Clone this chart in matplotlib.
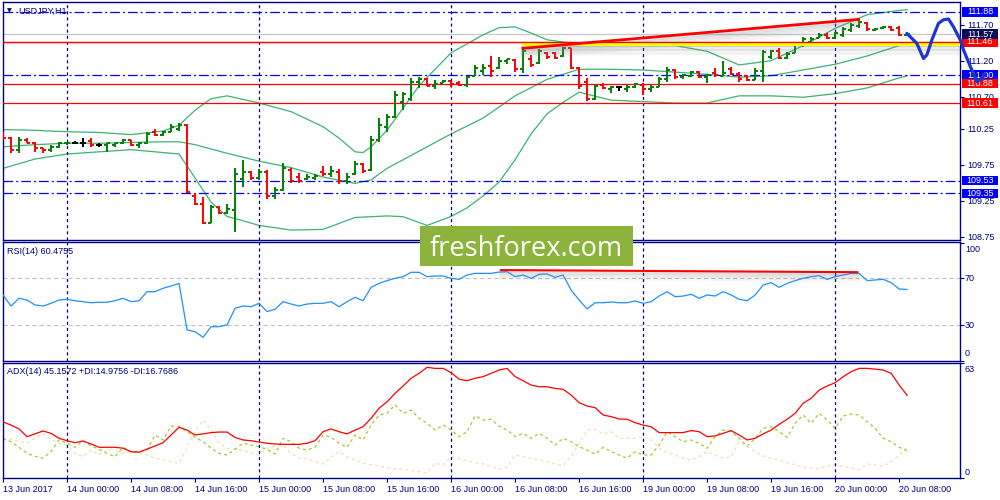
import matplotlib
matplotlib.use('Agg')
import matplotlib.pyplot as plt
import matplotlib.transforms as mtransforms
from matplotlib.collections import LineCollection
from matplotlib.patches import Rectangle
import numpy as np

plt.rcParams['font.family'] = ['Liberation Sans', 'DejaVu Sans']
plt.rcParams['lines.scale_dashes'] = False

# ---------------- data ----------------
bar_open = [110.18, 110.12, 109.95, 110.10, 110.06, 109.98, 109.95, 110.00, 110.05, 110.06,
            110.06, 110.08, 110.03, 110.02, 110.03, 110.05, 110.09, 110.03, 110.06, 110.20,
            110.17, 110.21, 110.25, 110.30, 109.31, 109.21, 108.94, 109.16, 109.08, 109.12,
            109.55, 109.65, 109.56, 109.65, 109.31, 109.40, 109.68, 109.58, 109.55, 109.57,
            109.65, 109.62, 109.65, 109.52, 109.62, 109.76, 109.68, 110.10, 110.28, 110.42,
            110.62, 110.66, 110.90, 110.95, 110.85, 110.89, 110.91, 110.89, 110.86, 110.98,
            111.05, 111.12, 111.10, 111.19, 111.21, 111.08, 111.22, 111.17, 111.31, 111.31,
            111.26, 111.38, 111.10, 110.90, 110.67, 110.86, 110.80, 110.83, 110.80, 110.84,
            110.86, 110.80, 110.84, 110.94, 111.07, 110.97, 110.99, 111.04, 110.97, 111.03,
            110.99, 111.08, 111.02, 110.98, 110.93, 111.05, 111.25, 111.33, 111.24, 111.31,
            111.42, 111.46, 111.52, 111.56, 111.52, 111.56, 111.63, 111.68, 111.72, 111.63,
            111.65, 111.67, 111.66, 111.56]
bar_high = [110.20, 110.14, 110.14, 110.12, 110.07, 109.98, 110.03, 110.07, 110.07, 110.085,
            110.12, 110.12, 110.06, 110.06, 110.06, 110.105, 110.095, 110.07, 110.21, 110.245,
            110.22, 110.32, 110.33, 110.32, 109.36, 109.305, 109.19, 109.17, 109.20, 109.70,
            109.81, 109.67, 109.69, 109.68, 109.445, 109.78, 109.70, 109.63, 109.62, 109.62,
            109.73, 109.73, 109.69, 109.64, 109.80, 109.78, 110.15, 110.40, 110.46, 110.78,
            110.76, 110.955, 110.97, 110.955, 110.93, 110.93, 110.92, 110.91, 110.99, 111.14,
            111.15, 111.265, 111.247, 111.23, 111.22, 111.37, 111.28, 111.36, 111.325, 111.325,
            111.395, 111.38, 111.116, 110.955, 110.86, 110.893, 110.847, 110.847, 110.86, 110.885,
            110.885, 110.86, 110.97, 111.116, 111.08, 111.015, 111.056, 111.06, 111.015, 111.093,
            111.195, 111.116, 111.047, 111.00, 111.093, 111.35, 111.35, 111.37, 111.325, 111.465,
            111.534, 111.534, 111.58, 111.58, 111.60, 111.665, 111.72, 111.776, 111.743, 111.65,
            111.683, 111.683, 111.683, 111.59]
bar_low = [110.10, 109.91, 109.92, 110.05, 109.93, 109.92, 109.93, 109.98, 110.03, 110.04,
           110.00, 110.00, 110.00, 109.93, 110.00, 110.04, 110.01, 109.98, 110.04, 110.15,
           110.15, 110.20, 110.225, 109.35, 109.19, 108.925, 108.94, 109.06, 109.06, 108.82,
           109.445, 109.54, 109.54, 109.27, 109.27, 109.39, 109.50, 109.50, 109.54, 109.54,
           109.595, 109.585, 109.48, 109.48, 109.61, 109.63, 109.67, 110.07, 110.21, 110.40,
           110.51, 110.64, 110.815, 110.845, 110.80, 110.885, 110.83, 110.85, 110.83, 110.98,
           111.00, 110.97, 111.09, 111.16, 111.047, 111.03, 111.116, 111.16, 111.22, 111.22,
           111.255, 111.08, 110.80, 110.64, 110.65, 110.80, 110.745, 110.78, 110.77, 110.815,
           110.72, 110.77, 110.84, 110.907, 110.94, 110.94, 110.97, 110.955, 110.893, 110.977,
           110.986, 111.00, 110.907, 110.92, 110.93, 110.907, 111.22, 111.22, 111.23, 111.31,
           111.395, 111.43, 111.51, 111.50, 111.50, 111.534, 111.60, 111.65, 111.618, 111.618,
           111.637, 111.618, 111.544, 111.544]
bar_close = [110.12, 109.95, 110.10, 110.06, 109.98, 109.95, 110.00, 110.05, 110.06, 110.06,
             110.06, 110.03, 110.03, 110.05, 110.05, 110.09, 110.03, 110.06, 110.18, 110.17,
             110.21, 110.28, 110.30, 109.37, 109.21, 108.94, 109.16, 109.08, 109.13, 109.62,
             109.65, 109.56, 109.65, 109.31, 109.40, 109.70, 109.52, 109.53, 109.58, 109.60,
             109.62, 109.66, 109.52, 109.58, 109.76, 109.66, 110.10, 110.30, 110.42, 110.72,
             110.74, 110.90, 110.95, 110.85, 110.88, 110.91, 110.87, 110.86, 110.97, 111.10,
             111.10, 111.05, 111.20, 111.22, 111.08, 111.34, 111.14, 111.33, 111.25, 111.24,
             111.38, 111.10, 110.85, 110.67, 110.85, 110.82, 110.83, 110.83, 110.84, 110.87,
             110.80, 110.84, 110.94, 111.07, 110.97, 111.00, 111.04, 110.97, 111.00, 111.00,
             111.03, 111.02, 110.95, 110.93, 111.05, 111.32, 111.33, 111.24, 111.29, 111.42,
             111.50, 111.50, 111.56, 111.52, 111.58, 111.64, 111.70, 111.74, 111.64, 111.64,
             111.67, 111.63, 111.56, 111.57]

bb_upper_bars = [0, 4, 8, 12, 16, 20, 22, 24, 26, 28, 32, 36, 40, 42, 44, 45, 46, 48, 52, 56,
                 60, 62, 64, 66, 68, 72, 76, 80, 84, 88, 92, 96, 100, 104, 108, 112, 113]
bb_upper = [110.24, 110.23, 110.21, 110.20, 110.17, 110.22, 110.30, 110.51, 110.67, 110.71,
            110.61, 110.49, 110.28, 110.12, 109.93, 109.92, 110.00, 110.23, 110.85, 111.31,
            111.56, 111.66, 111.67, 111.585, 111.49, 111.43, 111.42, 111.41, 111.41, 111.33,
            111.14, 111.20, 111.41, 111.65, 111.84, 111.90, 111.91]
bb_mid_bars = [0, 4, 8, 12, 16, 20, 22, 24, 28, 32, 36, 40, 44, 46, 48, 52, 56, 60, 64, 68,
               72, 76, 80, 84, 88, 92, 96, 100, 104, 108, 112, 113]
bb_mid = [110.00, 110.03, 110.05, 110.05, 110.06, 110.07, 110.07, 110.03, 109.91, 109.80,
          109.71, 109.58, 109.49, 109.54, 109.70, 109.94, 110.18, 110.40, 110.71, 110.94,
          111.08, 111.08, 111.07, 111.04, 111.01, 110.97, 110.99, 111.07, 111.15, 111.265,
          111.41, 111.45]
bb_lower_bars = [0, 4, 8, 12, 16, 20, 22, 24, 26, 28, 30, 32, 36, 40, 44, 48, 50, 53, 56, 58,
                 60, 62, 64, 66, 68, 70, 72, 76, 80, 84, 88, 92, 96, 100, 104, 108, 112, 113]
bb_lower = [109.70, 109.83, 109.90, 109.93, 109.96, 109.92, 109.90, 109.565, 109.23, 109.03,
            108.97, 108.905, 108.84, 108.85, 109.016, 109.037, 109.027, 108.905, 109.03, 109.15,
            109.315, 109.51, 109.82, 110.18, 110.46, 110.62, 110.76, 110.65, 110.63, 110.61,
            110.61, 110.71, 110.71, 110.69, 110.74, 110.82, 110.96, 110.99]

rsi = [55.8, 46.4, 53.0, 51.5, 47.3, 46.4, 48.7, 51.5, 52.1, 50.9,
       50.1, 49.2, 49.6, 49.6, 50.9, 53.0, 50.1, 50.9, 58.6, 58.6,
       61.5, 63.4, 65.7, 26.0, 24.6, 19.8, 28.8, 28.8, 30.3, 44.5,
       46.4, 45.8, 48.7, 41.6, 43.6, 50.1, 48.1, 46.4, 48.1, 48.7,
       48.7, 50.1, 45.8, 50.1, 53.8, 50.9, 62.3, 65.7, 68.0, 70.0,
       71.4, 75.1, 75.1, 71.4, 72.0, 72.0, 70.0, 69.1, 72.8, 74.2,
       74.2, 74.2, 75.3, 75.6, 71.4, 72.8, 70.0, 73.4, 73.7, 70.8,
       72.8, 60.0, 51.5, 43.9, 49.2, 49.2, 49.8, 49.2, 49.2, 50.7,
       48.7, 50.1, 54.9, 58.6, 54.3, 54.9, 56.4, 53.0, 55.8, 54.9,
       58.6, 55.8, 52.1, 50.9, 55.8, 64.3, 66.3, 62.3, 65.7, 68.0,
       70.0, 71.4, 72.2, 69.1, 71.4, 72.8, 74.2, 74.2, 68.0, 68.6,
       69.1, 66.3, 60.9, 60.5]

adx = [30.8, 29.0, 26.9, 22.7, 24.2, 25.8, 24.5, 21.8, 20.5, 19.4,
       20.3, 18.7, 16.9, 16.9, 16.9, 16.4, 14.5, 14.2, 15.9, 17.6,
       19.4, 23.6, 27.8, 26.3, 23.6, 24.2, 24.9, 25.2, 25.2, 22.3,
       20.9, 20.5, 19.8, 19.1, 18.7, 18.5, 18.5, 18.5, 19.1, 20.5,
       25.4, 26.9, 25.4, 24.2, 26.3, 28.1, 32.7, 38.2, 41.7, 46.3,
       50.3, 54.5, 57.2, 60.5, 59.9, 59.9, 57.6, 54.0, 53.2, 54.5,
       55.4, 57.2, 59.0, 59.9, 55.4, 53.2, 50.8, 49.9, 49.9, 49.0,
       48.5, 45.4, 41.2, 39.4, 38.5, 34.5, 33.6, 32.3, 32.2, 30.3,
       29.0, 28.1, 24.9, 24.9, 24.9, 24.9, 26.0, 25.4, 22.7, 23.1,
       24.5, 26.0, 23.6, 20.9, 21.8, 24.2, 26.3, 29.4, 32.2, 35.4,
       40.9, 43.6, 48.1, 50.3, 52.1, 55.4, 58.1, 59.9, 59.9, 59.5,
       59.0, 57.2, 50.8, 45.2]
di_plus = [21.8, 19.9, 16.9, 13.6, 12.0, 10.9, 14.5, 20.9, 19.1, 16.9,
           20.5, 17.6, 15.8, 13.5, 11.8, 16.9, 14.5, 14.8, 15.4, 23.6,
           20.9, 28.5, 28.1, 25.4, 22.5, 19.9, 16.4, 13.6, 12.7, 15.8,
           19.1, 18.1, 17.2, 15.8, 13.2, 21.8, 19.9, 16.4, 15.4, 16.9,
           23.6, 22.3, 19.1, 16.9, 23.6, 20.9, 29.0, 34.5, 35.4, 40.0,
           35.4, 37.2, 32.7, 30.0, 26.3, 29.0, 26.3, 22.7, 25.4, 34.0,
           31.8, 32.2, 28.5, 26.3, 22.7, 24.5, 21.8, 24.5, 21.8, 18.1,
           21.8, 19.9, 17.2, 15.4, 13.1, 16.9, 14.5, 12.7, 10.9, 14.5,
           12.7, 12.7, 18.1, 25.4, 22.7, 19.9, 20.9, 19.1, 16.4, 22.7,
           26.3, 25.4, 21.8, 17.6, 21.8, 27.2, 28.1, 25.4, 22.3, 30.0,
           34.5, 30.0, 35.4, 31.8, 27.2, 34.0, 35.0, 34.5, 30.8, 27.2,
           21.8, 19.9, 16.9, 15.0]
di_minus = [20.9, 21.3, 20.0, 19.1, 22.0, 24.2, 21.3, 19.1, 18.1, 13.6,
            11.8, 15.4, 12.7, 15.8, 15.4, 13.6, 14.5, 13.5, 12.7, 10.9,
            10.0, 9.1, 8.2, 17.2, 25.4, 31.8, 26.3, 19.1, 16.4, 15.8,
            15.1, 13.8, 12.7, 16.4, 17.6, 18.1, 13.6, 10.9, 10.9, 9.1,
            7.8, 11.5, 14.5, 11.8, 10.0, 8.2, 7.5, 6.8, 5.5, 5.2,
            5.0, 4.3, 3.5, 2.8, 8.2, 7.3, 11.8, 10.9, 9.6, 8.5,
            7.8, 6.3, 5.0, 6.0, 12.7, 11.8, 10.9, 10.0, 9.1, 7.8,
            6.8, 11.8, 19.1, 26.3, 26.7, 24.2, 25.4, 21.8, 21.8, 21.8,
            22.7, 20.9, 16.4, 14.0, 12.7, 10.9, 10.0, 11.8, 14.5, 12.7,
            10.9, 11.8, 19.9, 17.2, 14.5, 12.2, 10.9, 10.0, 8.5, 7.3,
            6.0, 5.5, 5.0, 6.8, 7.3, 6.4, 5.5, 4.6, 7.8, 7.3,
            6.4, 9.1, 12.7, 16.8]

date_tick_bars = [0, 8, 16, 24, 32, 40, 48, 56, 64, 72, 80, 88, 96, 104, 112]
date_tick_labels = ['13 Jun 2017', '14 Jun 00:00', '14 Jun 08:00', '14 Jun 16:00',
                    '15 Jun 00:00', '15 Jun 08:00', '15 Jun 16:00', '16 Jun 00:00',
                    '16 Jun 08:00', '16 Jun 16:00', '19 Jun 00:00', '19 Jun 08:00',
                    '19 Jun 16:00', '20 Jun 00:00', '20 Jun 08:00']
day_sep_bars = [8, 32, 56, 80, 104]
price_ticks = [111.70, 111.20, 110.70, 110.25, 109.75, 109.25, 108.75]
levels_blue = [111.88, 111.00, 109.53, 109.35]
levels_red = [111.46, 110.88, 110.61]
bid_price = 111.57

trend_bars = [64.8, 107.1]
trend_prices = [111.37, 111.776]
support_bars = [64.9, 119.6]
support_prices = [111.436, 111.436]
rsi_trend_bars = [62.1, 106.9]
rsi_trend_vals = [77.0, 75.2]
forecast_bars = [112.96, 114.21, 115.04, 115.46, 116.09, 116.91, 117.54, 118.16,
                 118.79, 119.63, 120.04, 120.88, 121.71, 122.13, 122.75]
forecast_prices = [111.58, 111.44, 111.23, 111.28, 111.49, 111.72, 111.77, 111.78,
                   111.67, 111.49, 111.35, 111.12, 110.91, 110.93, 111.02]

rsi_label = 'RSI(14) 60.4755'
adx_label = 'ADX(14) 45.1572 +DI:14.9756 -DI:16.7686'
title = 'USDJPY,H1'

# ---------------- styling ----------------
NAVY = '#000080'
GREEN = '#008000'
RED = '#FF0000'
BLUE = '#0000FF'
BB = '#3CB371'
FS = 6.5
W, H = 1000, 500
XMIN, XMAX = -0.04, 119.6

fig = plt.figure(figsize=(10, 5), dpi=100)
fig.patch.set_facecolor('white')


def axrect(l, t, r, b):
    return [l / W, 1 - b / H, (r - l) / W, (b - t) / H]


ax = fig.add_axes(axrect(2.7, 2, 960, 240))
ax_rsi = fig.add_axes(axrect(2.7, 242, 960, 361))
ax_adx = fig.add_axes(axrect(2.7, 362.7, 960, 478.3))

for a in (ax, ax_rsi, ax_adx):
    a.set_xlim(XMIN, XMAX)
    for s in a.spines.values():
        s.set_color(NAVY)
        s.set_linewidth(1.0)
    a.yaxis.tick_right()
    a.tick_params(axis='y', direction='out', length=3, width=0.8, colors=NAVY,
                  labelsize=FS, labelcolor=NAVY, pad=2)
    for b in day_sep_bars:
        a.axvline(b, color=NAVY, lw=0.9, dashes=(2.2, 2.2), zorder=2.6)

ax.set_ylim(108.702, 112.017)
ax_rsi.set_ylim(-0.4, 100.9)
ax_adx.set_ylim(0, 63)
ax.set_xticks([])
ax_rsi.set_xticks([])

# ---- main price panel ----
ax.axhline(bid_price, color='#C8C8C8', lw=0.9, zorder=1)
for lv in levels_red:
    ax.axhline(lv, color=RED, lw=0.9, zorder=3)
for lv in levels_blue:
    ax.axhline(lv, color=BLUE, lw=0.9, dashes=(7, 2.2, 1.4, 2.2), zorder=3)

ax.plot(bb_upper_bars, bb_upper, color=BB, lw=0.9, zorder=2)
ax.plot(bb_mid_bars, bb_mid, color=BB, lw=0.9, zorder=2)
ax.plot(bb_lower_bars, bb_lower, color=BB, lw=0.9, zorder=2)

segs, cols = [], []
tk = 0.4
for i, (o, h, l, c) in enumerate(zip(bar_open, bar_high, bar_low, bar_close)):
    col = GREEN if c > o else (RED if c < o else 'black')
    segs += [[(i, l), (i, h)], [(i - tk, o), (i, o)], [(i, c), (i + tk, c)]]
    cols += [col] * 3
ax.add_collection(LineCollection(segs, colors=cols, linewidths=1.4, zorder=4))

# drawn objects with soft shadows
for k in range(1, 9):
    tr = mtransforms.offset_copy(ax.transData, fig=fig, x=0, y=-1.3 * k - 1, units='dots')
    al = 0.22 * (1 - k / 9.0)
    ax.plot(support_bars, support_prices, color='gray', lw=1.4, alpha=al, transform=tr, zorder=4.5)
    ax.plot(trend_bars, trend_prices, color='gray', lw=1.4, alpha=al, transform=tr, zorder=4.5)
ax.plot(support_bars, support_prices, color='#FFFF00', lw=2.9, zorder=5, solid_capstyle='butt')
ax.axhline(levels_red[0], color=RED, lw=0.9, zorder=5.1)
ax.plot(trend_bars, trend_prices, color=RED, lw=2.0, zorder=5.2, solid_capstyle='butt')

ax.set_yticks(price_ticks)
ax.set_yticklabels(['%.2f' % p for p in price_ticks])

# right-axis price boxes
btr = mtransforms.blended_transform_factory(fig.transFigure, ax.transData)
box_h = 0.134
box_list = [(lv, BLUE) for lv in levels_blue] + [(lv, RED) for lv in levels_red] + [(bid_price, '#0C0C58')]
for lv, colr in box_list:
    ax.add_patch(Rectangle((0.9617, lv - box_h / 2), 0.0366, box_h, transform=btr,
                           facecolor=colr, edgecolor='none', clip_on=False, zorder=6))
    ax.text(0.9800, lv, '%.2f' % lv, transform=btr, ha='center', va='center',
            color='white', fontsize=FS, zorder=7, clip_on=False)

# hand-drawn forecast path
ax.plot(forecast_bars, forecast_prices, color='#1C36D6', lw=2.3, clip_on=False, zorder=9,
        solid_capstyle='round', solid_joinstyle='round')

# ---- RSI panel ----
ax_rsi.axhline(70, color='#C0C0C0', lw=0.8, dashes=(3, 2.2), zorder=1)
ax_rsi.axhline(30, color='#C0C0C0', lw=0.8, dashes=(3, 2.2), zorder=1)
ax_rsi.plot(range(len(rsi)), rsi, color='#1E90FF', lw=0.9, zorder=3)
for k in range(1, 8):
    tr = mtransforms.offset_copy(ax_rsi.transData, fig=fig, x=0, y=-1.3 * k - 0.5, units='dots')
    ax_rsi.plot(rsi_trend_bars, rsi_trend_vals, color='gray', lw=1.4,
                alpha=0.22 * (1 - k / 8.0), transform=tr, zorder=4)
ax_rsi.plot(rsi_trend_bars, rsi_trend_vals, color=RED, lw=1.5, zorder=5, solid_capstyle='butt')
ax_rsi.set_yticks([0, 30, 70, 100])
ax_rsi.set_yticklabels([])
rtr = mtransforms.blended_transform_factory(ax_rsi.transAxes, ax_rsi.transData)
for v, s in [(94.9, '100'), (70, '70'), (30, '30'), (6.4, '0')]:
    ax_rsi.text(1.0052, v, s, transform=rtr, ha='left', va='center', fontsize=FS,
                color=NAVY, clip_on=False)

# ---- ADX panel ----
xs = range(len(adx))
ax_adx.plot(xs, di_minus, color='#F5DEB3', lw=0.9, dashes=(2.2, 2.2), zorder=2)
ax_adx.plot(xs, di_plus, color='#9ACD32', lw=0.9, dashes=(2.2, 2.2), zorder=2.1)
ax_adx.plot(xs, adx, color=RED, lw=0.9, zorder=3)
ax_adx.set_yticks([0, 63])
ax_adx.set_yticklabels([])
atr = mtransforms.blended_transform_factory(ax_adx.transAxes, ax_adx.transData)
for v, s in [(59.4, '63'), (3.3, '0')]:
    ax_adx.text(1.0052, v, s, transform=atr, ha='left', va='center', fontsize=FS,
                color=NAVY, clip_on=False)
ax_adx.set_xticks(date_tick_bars)
ax_adx.set_xticklabels(date_tick_labels, ha='left')
ax_adx.tick_params(axis='x', direction='out', length=3, width=0.8, colors=NAVY,
                   labelsize=FS, labelcolor=NAVY, pad=2)

# ---- texts ----
fig.text(9.5 / W, 1 - 10.5 / H, '\u25BC', ha='center', va='center', fontsize=4.5,
         color=NAVY, family='DejaVu Sans')
fig.text(18 / W, 1 - 11 / H, title, ha='left', va='center', fontsize=FS, color=NAVY)
fig.text(7 / W, 1 - 251.7 / H, rsi_label, ha='left', va='center', fontsize=FS, color=NAVY)
fig.text(7 / W, 1 - 371.7 / H, adx_label, ha='left', va='center', fontsize=FS, color=NAVY)

# ---- watermark ----
fig.add_artist(Rectangle((420 / W, 1 - 265.7 / H), 213 / W, 39.7 / H, transform=fig.transFigure,
                         facecolor='#8CB43C', edgecolor='none', zorder=10))
fig.text(526.5 / W, 1 - 256 / H, 'freshforex.com', ha='center', va='baseline', color='white',
         fontsize=19.5, family='Open Sans', zorder=11)

fig.savefig('out.png', dpi=100, facecolor='white')
